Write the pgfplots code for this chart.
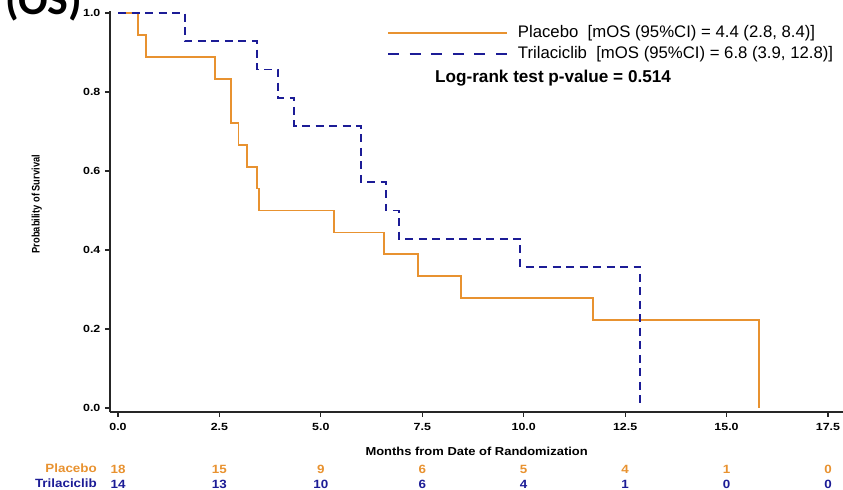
\documentclass[border=0pt]{standalone}
\usepackage{fontspec}
\setmainfont{Liberation Sans}
\newfontfamily\carlito{Carlito}
\newfontfamily\widefont[FakeStretch=1.12]{Liberation Sans}
\newfontfamily\tickfont[FakeStretch=1.2]{Liberation Sans}
\newfontfamily\narrowfont[FakeStretch=0.85]{Liberation Sans}
\usepackage{pgfplots}
\pgfplotsset{compat=1.18}
\definecolor{plac}{RGB}{232,146,48}
\definecolor{tril}{RGB}{28,28,150}
\tikzset{risk/.style={font=\widefont\fontsize{12}{13}\selectfont\bfseries, inner sep=0pt, anchor=base}}
\begin{document}
\begin{tikzpicture}
\path[use as bounding box] (0bp,0bp) rectangle (843bp,490bp);
\node[anchor=base west, inner sep=0pt, font=\carlito\fontsize{44}{48}\selectfont\bfseries] at (5bp,475bp) {(OS)};
\begin{axis}[
  at={(109.9bp,78bp)}, anchor=south west,
  scale only axis, width=734.3bp, height=401bp,
  xmin=-0.2, xmax=17.9, ymin=-0.0101, ymax=1.005,
  axis x line*=bottom, axis y line*=left,
  axis line style={line width=1.3bp, black!85, -},
  xtick={0,2.5,5,7.5,10,12.5,15,17.5},
  ytick={0,0.2,0.4,0.6,0.8,1},
  tick align=outside, major tick length=5bp,
  tick style={line width=1.1bp, black!85},
  ticklabel style={font=\tickfont\fontsize{10.4}{12}\selectfont\bfseries},
  xticklabel style={yshift=-3bp, /pgf/number format/fixed, /pgf/number format/fixed zerofill, /pgf/number format/precision=1, /pgf/number format/assume math mode=true},
  yticklabel style={xshift=-1bp, /pgf/number format/fixed, /pgf/number format/fixed zerofill, /pgf/number format/precision=1, /pgf/number format/assume math mode=true},
  xlabel={Months from Date of Randomization},
  xlabel style={at={(axis cs:8.84,-0.109)}, anchor=center, font=\widefont\fontsize{11.6}{13}\selectfont\bfseries},
  ylabel={Probability of Survival},
  ylabel style={at={(axis cs:-2.0,0.516)}, anchor=center, font=\narrowfont\fontsize{11}{13}\selectfont\bfseries},
  clip=false,
  legend style={at={(0.3774,0.965)}, anchor=north west, draw=none, fill=none,
    inner sep=0pt, outer sep=0pt, row sep=5bp,
    nodes={inner sep=0pt, text height=12bp, text depth=4bp, font=\fontsize{16.8}{18}\selectfont}},
  legend cell align=left,
]
\addplot[const plot, plac, line width=1.8bp,
  legend image code/.code={\draw[plac, line width=2bp] (0bp,0bp) -- (119bp,0bp); \path (129bp,0bp);}]
  coordinates {(0,1) (0.49,0.9444) (0.69,0.8889) (2.40,0.8333) (2.78,0.7222) (2.97,0.6667) (3.17,0.6111) (3.42,0.5556) (3.48,0.5) (5.32,0.4444) (6.55,0.3889) (7.39,0.3333) (8.45,0.2778) (11.70,0.2222) (15.80,0)};
\addlegendentry{Placebo\ \ [mOS (95\%CI) = 4.4 (2.8, 8.4)]}
\addplot[const plot, tril, line width=1.8bp, dash pattern=on 8bp off 5.5bp,
  legend image code/.code={\draw[tril, line width=2bp, dash pattern=on 11bp off 10.6bp] (0bp,0bp) -- (119bp,0bp); \path (129bp,0bp);}]
  coordinates {(0,1) (1.65,0.9286) (3.42,0.8571) (3.94,0.7857) (4.34,0.7143) (5.99,0.5714) (6.61,0.5) (6.92,0.4286) (9.91,0.3571) (12.87,0)};
\addlegendentry{Trilaciclib\ \ [mOS (95\%CI) = 6.8 (3.9, 12.8)]}
\node[plac, risk] at (axis cs:0,-0.166) {18};
\node[plac, risk] at (axis cs:2.5,-0.166) {15};
\node[plac, risk] at (axis cs:5,-0.166) {9};
\node[plac, risk] at (axis cs:7.5,-0.166) {6};
\node[plac, risk] at (axis cs:10,-0.166) {5};
\node[plac, risk] at (axis cs:12.5,-0.166) {4};
\node[plac, risk] at (axis cs:15,-0.166) {1};
\node[plac, risk] at (axis cs:17.5,-0.166) {0};
\node[tril, risk] at (axis cs:0,-0.205) {14};
\node[tril, risk] at (axis cs:2.5,-0.205) {13};
\node[tril, risk] at (axis cs:5,-0.205) {10};
\node[tril, risk] at (axis cs:7.5,-0.205) {6};
\node[tril, risk] at (axis cs:10,-0.205) {4};
\node[tril, risk] at (axis cs:12.5,-0.205) {1};
\node[tril, risk] at (axis cs:15,-0.205) {0};
\node[tril, risk] at (axis cs:17.5,-0.205) {0};
\end{axis}
\node[plac, risk, anchor=base east] at (97bp,17.5bp) {Placebo};
\node[tril, risk, anchor=base east] at (97bp,2.2bp) {Trilaciclib};
\node[anchor=base west, inner sep=0pt, font=\fontsize{17.2}{20}\selectfont\bfseries] at (435bp,407bp) {Log-rank test p-value = 0.514};
\end{tikzpicture}
\end{document}
